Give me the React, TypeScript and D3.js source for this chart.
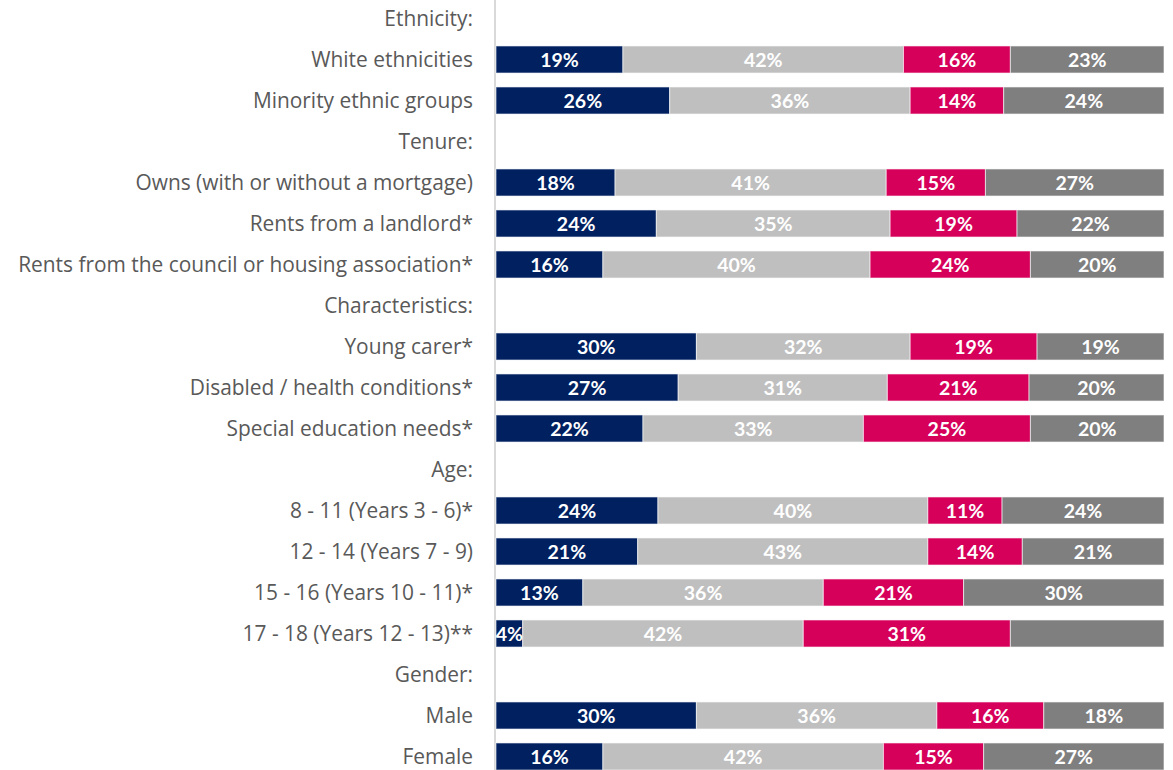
import { useEffect, useRef } from "react";
import * as d3 from "d3";

const categories = [
  "Ethnicity:",
  "White ethnicities",
  "Minority ethnic groups",
  "Tenure:",
  "Owns (with or without a mortgage)",
  "Rents from a landlord*",
  "Rents from the council or housing association*",
  "Characteristics:",
  "Young carer*",
  "Disabled / health conditions*",
  "Special education needs*",
  "Age:",
  "8 - 11 (Years 3 - 6)*",
  "12 - 14 (Years 7 - 9)",
  "15 - 16 (Years 10 - 11)*",
  "17 - 18 (Years 12 - 13)**",
  "Gender:",
  "Male",
  "Female",
];

// null = header row (no bar)
const seriesA = [null, 19, 26, null, 18, 24, 16, null, 30, 27, 22, null, 24, 21, 13, 4, null, 30, 16];
const seriesB = [null, 42, 36, null, 41, 35, 40, null, 32, 31, 33, null, 40, 43, 36, 42, null, 36, 42];
const seriesC = [null, 16, 14, null, 15, 19, 24, null, 19, 21, 25, null, 11, 14, 21, 31, null, 16, 15];
const seriesD = [null, 23, 24, null, 27, 22, 20, null, 19, 20, 20, null, 24, 21, 30, 23, null, 18, 27];
// labels not shown in the original
const hiddenLabels = [{ row: 15, series: 3 }];

const colors = ["#002060", "#BFBFBF", "#D6005A", "#7F7F7F"];

export default function App() {
  const ref = useRef<SVGSVGElement>(null);

  useEffect(() => {
    if (!ref.current) return;
    const svg = d3.select(ref.current);
    svg.selectAll("*").remove();

    const width = 1173;
    const height = 770;
    const left = 496;
    const right = 1164;
    const top = -2;
    const bottom = 777;

    const y = d3.scaleBand<number>()
      .domain(categories.map((_, i) => i))
      .range([top, bottom])
      .paddingInner(0.34)
      .paddingOuter(0.17);

    const x = d3.scaleLinear().domain([0, 1]).range([left, right]);

    // axis line
    svg.append("line")
      .attr("x1", left - 1).attr("x2", left - 1)
      .attr("y1", 0).attr("y2", height)
      .attr("stroke", "#D9D9D9").attr("stroke-width", 2);

    // category labels
    svg.append("g")
      .selectAll("text")
      .data(categories)
      .enter()
      .append("text")
      .attr("x", 473)
      .attr("y", (_, i) => (y(i) as number) + y.bandwidth() / 2)
      .attr("dy", "0.35em")
      .attr("text-anchor", "end")
      .attr("fill", "#595959")
      .attr("font-family", "'Open Sans', sans-serif")
      .attr("font-size", 20.9)
      .text(d => d);

    const all = [seriesA, seriesB, seriesC, seriesD];
    const rows = categories.map((_, i) => all.map(s => s[i]));

    rows.forEach((vals, i) => {
      if (vals[0] === null) return;
      const nums = vals as number[];
      const total = d3.sum(nums);
      let acc = 0;
      nums.forEach((v, s) => {
        const x0 = x(acc / total);
        acc += v;
        const x1 = x(acc / total);
        svg.append("rect")
          .attr("x", x0)
          .attr("y", y(i) as number)
          .attr("width", x1 - x0)
          .attr("height", y.bandwidth())
          .attr("fill", colors[s])
          .attr("stroke", "#ffffff")
          .attr("stroke-opacity", 0.6)
          .attr("stroke-width", 1);
        if (hiddenLabels.some(h => h.row === i && h.series === s)) return;
        svg.append("text")
          .attr("x", (x0 + x1) / 2)
          .attr("y", (y(i) as number) + y.bandwidth() / 2)
          .attr("dy", "0.36em")
          .attr("text-anchor", "middle")
          .attr("fill", "#ffffff")
          .attr("font-family", "Lato, 'Open Sans', sans-serif")
          .attr("font-weight", "bold")
          .attr("font-size", 19.5)
          .text(`${v}%`);
      });
    });

    svg.attr("width", width).attr("height", height);
  }, []);

  return (
    <svg
      ref={ref}
      width={1173}
      height={770}
      style={{ position: "absolute", left: 0, top: 0, background: "#fff" }}
    />
  );
}
